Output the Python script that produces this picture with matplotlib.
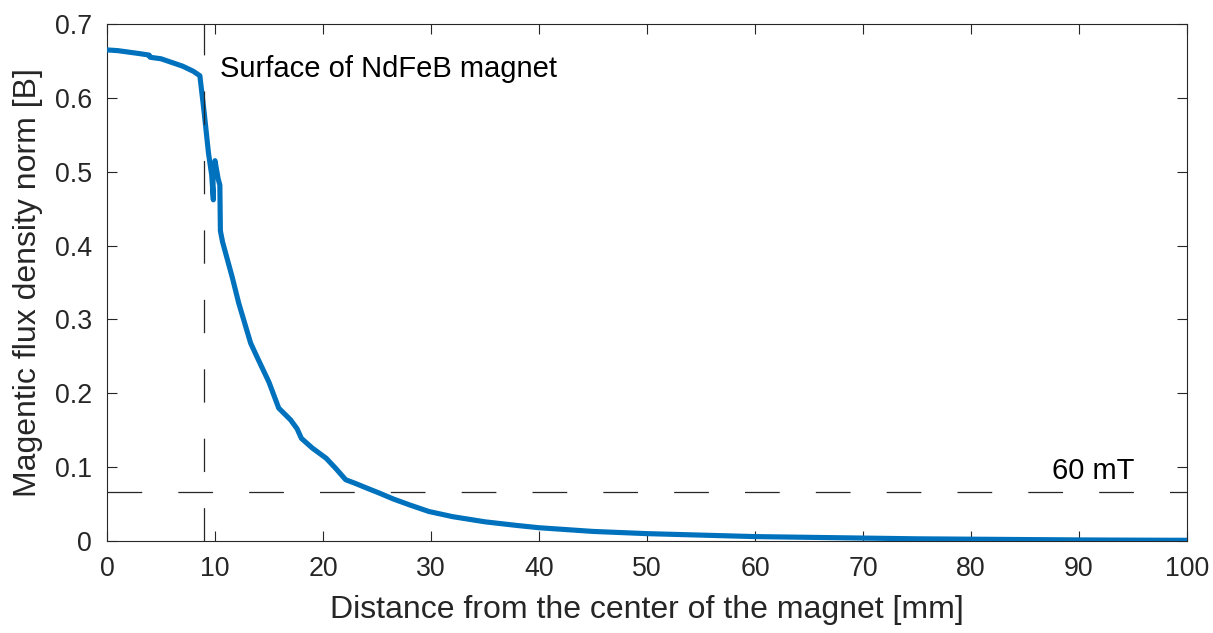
import matplotlib
matplotlib.use("Agg")
import matplotlib.pyplot as plt

plt.rcParams['font.family'] = ['Liberation Sans', 'DejaVu Sans']
plt.rcParams['lines.scale_dashes'] = False

# Data
distance_mm = [0, 1, 2, 3, 3.9, 4.0, 5, 6, 7, 8, 8.6, 9.0, 9.4, 9.7, 9.85, 9.8, 10.0, 10.3, 10.45, 10.5,
               10.7, 11.6, 12.2, 13.3, 13.9, 15.0, 15.9, 17.0, 17.6, 18.0, 19.0, 20.3, 21.2, 22.1,
               23.0, 24.0, 25.2, 26.5, 28.0, 29.8, 32, 35, 38, 40, 45, 50, 55, 60, 65, 70, 75, 80, 85,
               90, 95, 100]
flux_T = [0.665, 0.664, 0.662, 0.660, 0.658, 0.655, 0.653, 0.648, 0.643, 0.636, 0.630, 0.580, 0.525, 0.495, 0.462,
          0.500, 0.515, 0.490, 0.482, 0.420,
          0.405, 0.357, 0.322, 0.268, 0.249, 0.215, 0.180, 0.164, 0.152, 0.139, 0.126, 0.112, 0.098, 0.083,
          0.078, 0.072, 0.065, 0.057, 0.049, 0.040, 0.033, 0.026, 0.021, 0.018, 0.013, 0.010, 0.008, 0.006,
          0.005, 0.004, 0.003, 0.0025, 0.002, 0.0015, 0.0012, 0.001]

surface_x = 9
threshold_y = 0.066
x_ticks = list(range(0, 101, 10))
y_ticks = [0, 0.1, 0.2, 0.3, 0.4, 0.5, 0.6, 0.7]
y_tick_labels = ['0', '0.1', '0.2', '0.3', '0.4', '0.5', '0.6', '0.7']

fig = plt.figure(figsize=(12.13, 6.33), dpi=100)
ax = fig.add_axes([0.0882, 0.1453, 0.8904, 0.8167])

ax.plot(distance_mm, flux_T, color='#0072BD', linewidth=3.7, solid_joinstyle='round',
        solid_capstyle='butt', zorder=3)
ax.plot([surface_x, surface_x], [0, 0.7], color='#262626', linewidth=0.9,
        dashes=(24, 26), zorder=4)
ax.plot([0, 100], [threshold_y, threshold_y], color='#262626', linewidth=0.9,
        dashes=(25, 26), dash_capstyle='butt', zorder=2)

ax.text(10.45, 0.628, 'Surface of NdFeB magnet', fontsize=21, va='baseline', ha='left', color='black')
ax.text(95.1, 0.084, '60 mT', fontsize=21, va='baseline', ha='right', color='black')

ax.set_xlim(0, 100)
ax.set_ylim(0, 0.7)
ax.set_xticks(x_ticks)
ax.set_yticks(y_ticks)
ax.set_yticklabels(y_tick_labels)
ax.tick_params(direction='in', top=True, right=True, length=7, width=0.8, colors='#262626',
               labelsize=19.3, labelcolor='#262626', pad=11)
for s in ax.spines.values():
    s.set_color('#262626')
    s.set_linewidth(0.8)

ax.set_xlabel('Distance from the center of the magnet [mm]', fontsize=23, color='#262626')
ax.set_ylabel('Magentic flux density norm [B]', fontsize=23, color='#262626')
ax.xaxis.set_label_coords(0.5, -0.1047)
ax.yaxis.set_label_coords(-0.0593, 0.5)

fig.savefig('out.png', dpi=100)
